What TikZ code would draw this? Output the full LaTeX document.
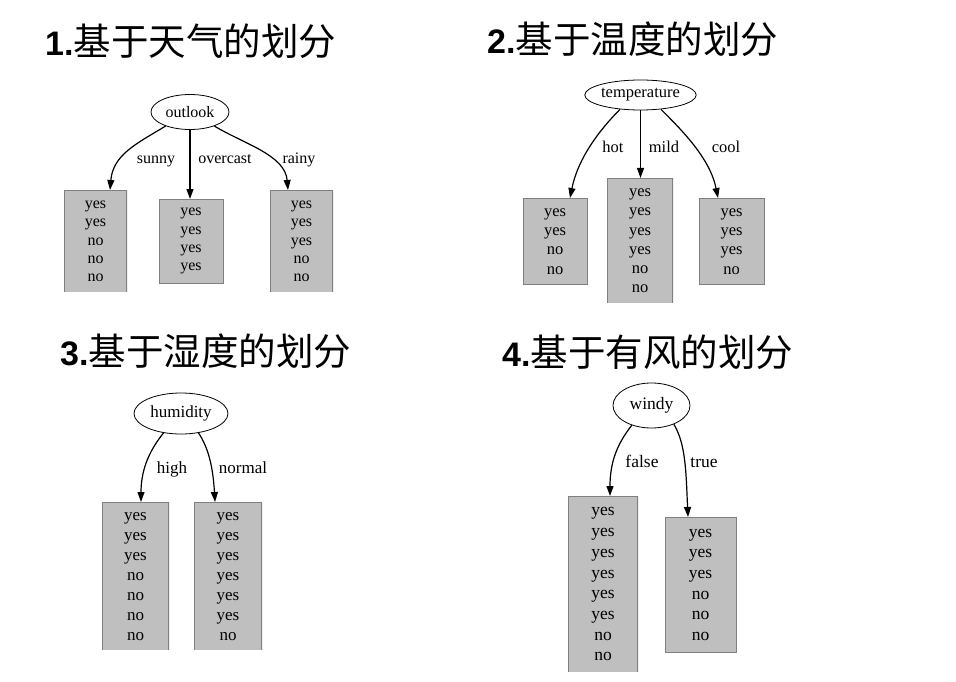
\documentclass[tikz,border=0pt]{standalone}
\usepackage{fontspec}
\setmainfont{Liberation Serif}
\newfontfamily\hei{Liberation Sans}
\newfontfamily\cjk{Noto Sans CJK SC}
\usetikzlibrary{shapes.geometric,arrows.meta}
\newcommand\parttitle[2]{{\hei\bfseries\fontsize{34}{40}\selectfont #1}{\cjk\fontsize{37.5}{40}\selectfont #2}}

\begin{document}
\begin{tikzpicture}[x=1pt,y=-1pt,
	attr/.style={ellipse,draw,line width=0.8pt,inner sep=0pt},
	leaf/.style={fill=black!25,draw=black!50,line width=0.8pt,align=center,inner sep=0pt,anchor=north},
	cutleaf/.style={leaf,draw=none,path picture={\draw[black!50,line width=1.6pt] (path picture bounding box.south west) |- (path picture bounding box.north east) -- (path picture bounding box.south east);}},
	edge/.style={line width=1.2pt,-{Triangle[length=10pt,width=7pt]}},
	lab/.style={anchor=base,inner sep=0pt},
	ttl/.style={anchor=base west,inner sep=0pt}]
	\useasboundingbox (0,0) rectangle (956,682);

	\node[ttl] (title1) at (45,56) {\parttitle{1.}{基于天气的划分}};
	\node[ttl] (title2) at (487,54) {\parttitle{2.}{基于温度的划分}};
	\node[ttl] (title3) at (60,365) {\parttitle{3.}{基于湿度的划分}};
	\node[ttl] (title4) at (502,366) {\parttitle{4.}{基于有风的划分}};

	\begin{scope}[font=\fontsize{16}{18.3}\selectfont]
	\node[attr,minimum width=78,minimum height=35] (outlook) at (190,112) {outlook};
	\node[cutleaf,minimum width=63,minimum height=102] (sunny) at (95.5,190) {yes\\yes\\no\\no\\no};
	\node[leaf,minimum width=64,minimum height=84] (overcast) at (191,199) {yes\\yes\\yes\\yes};
	\node[cutleaf,minimum width=63,minimum height=102] (rainy) at (301.5,190) {yes\\yes\\yes\\no\\no};
	\draw[edge] (outlook.210) .. controls +(-30,18) and +(3,-35) .. ([xshift=14.5pt]sunny.north);
	\draw[edge] (outlook.south) -- (outlook.south |- overcast.north);
	\draw[edge] (outlook.330) .. controls +(30,18) and +(-3,-35) .. ([xshift=-13.5pt]rainy.north);
	\node[lab] (sunnylab) at (156,164) {sunny};
	\node[lab] (overcastlab) at (225,164) {overcast};
	\node[lab] (rainylab) at (299,164) {rainy};
	\end{scope}

	\begin{scope}[font=\fontsize{16.5}{19.2}\selectfont]
	\node[attr,minimum width=109,minimum height=30] (temp) at (640.5,95) {temperature};
	\node[leaf,minimum width=64,minimum height=86] (hot) at (555,198) {yes\\yes\\no\\no};
	\node[cutleaf,minimum width=66,minimum height=125] (mild) at (640,178) {yes\\yes\\yes\\yes\\no\\no};
	\node[leaf,minimum width=65,minimum height=86] (cool) at (731.5,198) {yes\\yes\\yes\\no};
	\draw[edge] (temp.215) .. controls +(-20,20) and +(8,-40) .. ([xshift=15pt]hot.north);
	\draw[edge] (temp.south) -- (temp.south |- mild.north);
	\draw[edge] (temp.325) .. controls +(20,20) and +(-8,-40) .. ([xshift=-13.5pt]cool.north);
	\node[lab] (hotlab) at (613,153) {hot};
	\node[lab] (mildlab) at (664,153) {mild};
	\node[lab] (coollab) at (726,153) {cool};
	\end{scope}

	\begin{scope}[font=\fontsize{17}{20}\selectfont]
	\node[attr,minimum width=94,minimum height=41] (humidity) at (181,413.5) {humidity};
	\node[cutleaf,minimum width=67,minimum height=148] (high) at (135.5,502) {yes\\yes\\yes\\no\\no\\no\\no};
	\node[cutleaf,minimum width=68,minimum height=148] (normal) at (228,502) {yes\\yes\\yes\\yes\\yes\\yes\\no};
	\draw[edge] (humidity.228) .. controls +(-12,15) and +(0,-35) .. ([xshift=5.5pt]high.north);
	\draw[edge] (humidity.312) .. controls +(10,15) and +(-2,-35) .. ([xshift=-13pt]normal.north);
	\node[lab] (highlab) at (172,473) {high};
	\node[lab] (normallab) at (243,473) {normal};
	\end{scope}

	\begin{scope}[font=\fontsize{17.5}{20.7}\selectfont]
	\node[attr,minimum width=77,minimum height=45] (windy) at (651.5,405.5) {windy};
	\node[cutleaf,minimum width=70,minimum height=176] (false) at (603,496) {yes\\yes\\yes\\yes\\yes\\yes\\no\\no};
	\node[leaf,minimum width=71,minimum height=135] (true) at (700.5,517) {yes\\yes\\yes\\no\\no\\no};
	\draw[edge] (windy.225) .. controls +(-14,18) and +(0,-35) .. ([xshift=7pt]false.north);
	\draw[edge] (windy.320) .. controls +(12,20) and +(-2,-45) .. ([xshift=-12.5pt]true.north);
	\node[lab] (falselab) at (642,467) {false};
	\node[lab] (truelab) at (704,467) {true};
	\end{scope}
\end{tikzpicture}
\end{document}
